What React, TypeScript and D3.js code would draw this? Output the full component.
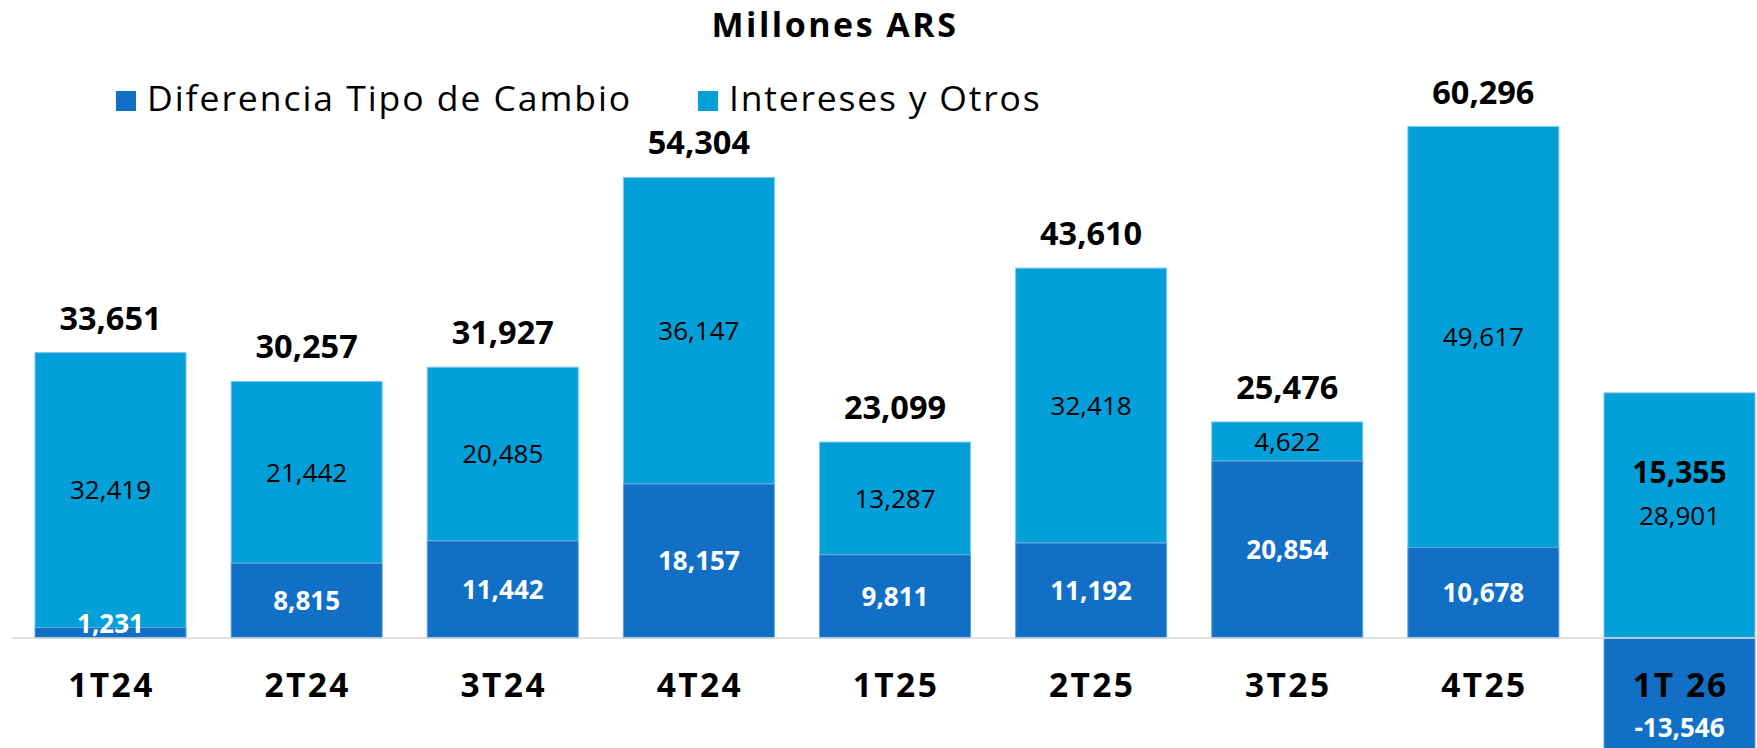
import React from "react";
import * as d3 from "d3";

const categories = ["1T24", "2T24", "3T24", "4T24", "1T25", "2T25", "3T25", "4T25", "1T 26"];
const difTipoCambio = [1231, 8815, 11442, 18157, 9811, 11192, 20854, 10678, -13546];
const interesesOtros = [32419, 21442, 20485, 36147, 13287, 32418, 4622, 49617, 28901];
const totals = [33651, 30257, 31927, 54304, 23099, 43610, 25476, 60296, 15355];
const seriesNames = ["Diferencia Tipo de Cambio", "Intereses y Otros"];

const W = 1757;
const H = 748;
const DARK = "#1170c6";
const LIGHT = "#029fd9";
const FONT = "'Open Sans', sans-serif";
const CAP = 0.714;

const fmt = (v: number) => d3.format(",")(v).replace("\u2212", "-");

export default function App() {
  const x = d3.scaleBand<string>().domain(categories).range([35, 1755]).paddingInner(0.23).paddingOuter(0);
  const y = d3.scaleLinear().domain([-15000, 65000]).range([638 + 15000 * 0.008482, 638 - 65000 * 0.008482]);
  const bw = x.bandwidth();
  const y0 = y(0);

  const bl = (center: number, size: number) => center + (CAP * size) / 2;

  return (
    <svg width={W} height={H} style={{ position: "absolute", left: 0, top: 0, background: "#fff" }} fontFamily={FONT}>
      <text x={835} y={37.3} textAnchor="middle" fontSize={34} fontWeight={700} fill="#000" letterSpacing={2.5}>
        Millones ARS
      </text>
      {/* legend */}
      <rect x={116} y={91} width={20} height={20} fill={DARK} />
      <text x={147} y={110.7} fontSize={35.5} fill="#000" letterSpacing={1.95}>{seriesNames[0]}</text>
      <rect x={698} y={91} width={20} height={20} fill={LIGHT} />
      <text x={729} y={110.7} fontSize={35.5} fill="#000" letterSpacing={1.8}>{seriesNames[1]}</text>

      {categories.map((c, i) => {
        const bx = x(c)!;
        const cx = bx + bw / 2;
        const d = difTipoCambio[i];
        const it = interesesOtros[i];
        const base = Math.max(d, 0);
        const dTop = y(Math.max(d, 0));
        const dBot = y(Math.min(d, 0));
        const iTop = y(base + it);
        const iBot = y(base);
        const iMid = (iTop + iBot) / 2;
        const neg = d < 0;
        const dMid = neg ? 0 : Math.min((dTop + dBot) / 2, y0 - 14);
        return (
          <g key={c}>
            <rect x={bx} y={iTop} width={bw} height={iBot - iTop} fill={LIGHT} stroke="#7cc9ee" strokeWidth={1} />
            <rect x={bx} y={dTop} width={bw} height={dBot - dTop} fill={DARK} stroke="#5fa3e0" strokeWidth={1} />
            <text x={cx} y={bl(iMid, 26)} textAnchor="middle" fontSize={26} fill="#000">
              {fmt(it)}
            </text>
            {neg ? (
              <>
                <text x={cx + 1} y={697} textAnchor="middle" fontSize={33.5} fontWeight={700} fill="#000" letterSpacing={2}>{c}</text>
                <text x={cx} y={737} textAnchor="middle" fontSize={26} fontWeight={700} fill="#fff">{fmt(d)}</text>
                <text x={cx} y={bl(iMid, 26) - 42} textAnchor="middle" fontSize={30} fontWeight={700} fill="#000">
                  {fmt(totals[i])}
                </text>
              </>
            ) : (
              <>
                <text x={cx} y={bl(dMid, 26)} textAnchor="middle" fontSize={26} fontWeight={700} fill="#fff">
                  {fmt(d)}
                </text>
                <text x={cx} y={iTop - 23} textAnchor="middle" fontSize={32.5} fontWeight={700} fill="#000">
                  {fmt(totals[i])}
                </text>
                <text x={cx + 1} y={697} textAnchor="middle" fontSize={33.5} fontWeight={700} fill="#000" letterSpacing={2.4}>{c}</text>
              </>
            )}
          </g>
        );
      })}
      <line x1={12} x2={W} y1={y0} y2={y0} stroke="#d9d9d9" strokeWidth={1.5} />
    </svg>
  );
}
